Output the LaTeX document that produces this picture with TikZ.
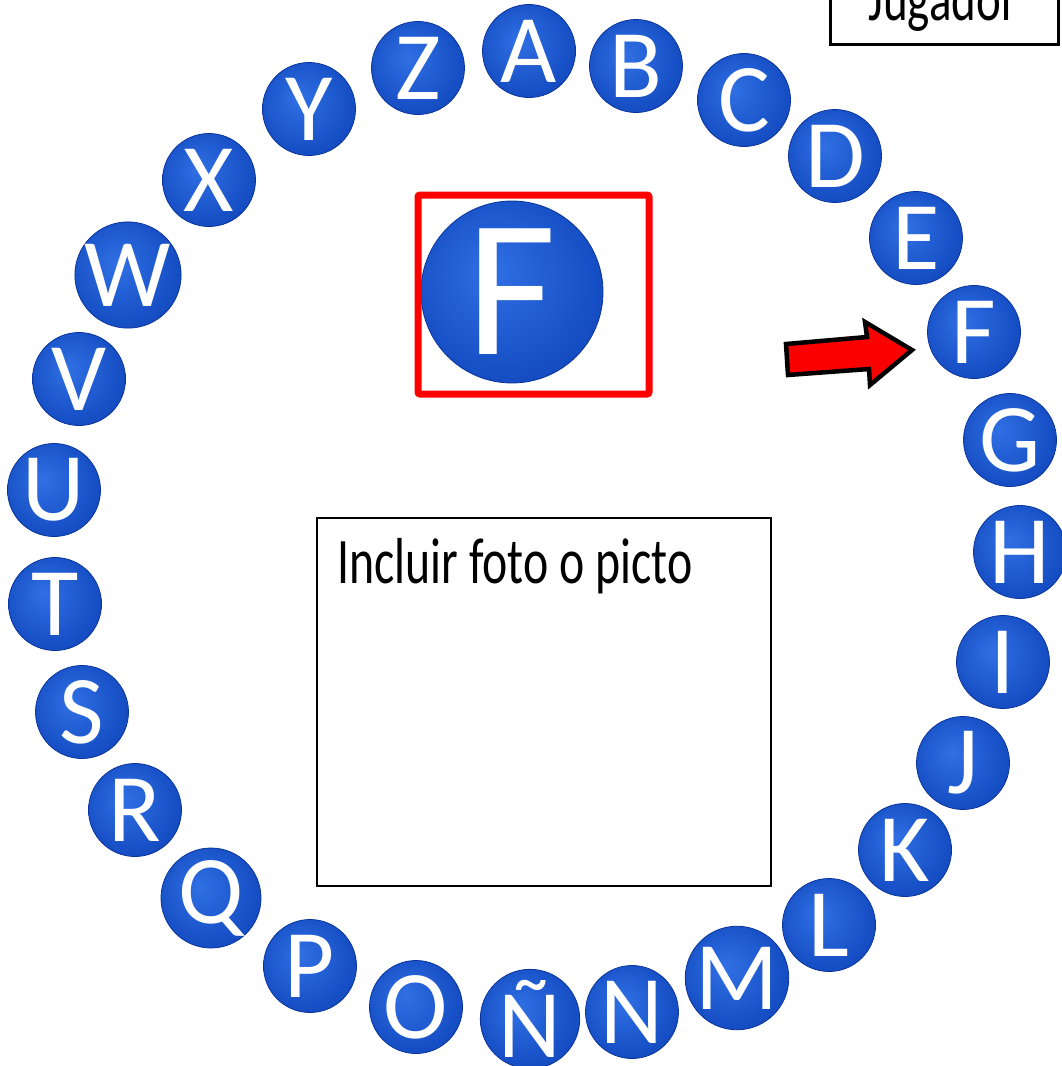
\documentclass[tikz,border=0pt]{standalone}
\usepackage{fontspec}
\setmainfont{Carlito}
\usetikzlibrary{shapes.geometric}
\definecolor{ballin}{RGB}{48,112,228}
\definecolor{ballmid}{RGB}{22,78,196}
\definecolor{ballout}{RGB}{10,52,156}
\definecolor{arrowred}{RGB}{250,0,0}
\pgfdeclareradialshading{ballshade}{\pgfpoint{-6bp}{6bp}}{color(0bp)=(ballin); color(26bp)=(ballmid); color(50bp)=(ballout)}
\tikzset{
  ball/.style={circle, minimum size=93pt, inner sep=0pt, shading=ballshade,
    text=white, font=\fontsize{97}{97}\selectfont, draw=ballout, line width=0.8pt},
  bigball/.style={ball, minimum size=182pt, font=\fontsize{196}{196}\selectfont},
  plainbox/.style={draw=black, line width=2.2pt},
  txt/.style={inner sep=0pt, anchor=base west}
}
\begin{document}
\begin{tikzpicture}[x=1pt,y=-1pt]
\useasboundingbox (0,0) rectangle (1061,1066);
\fill[white] (0,0) rectangle (1061,1066);
% ring of letters
\node[ball] (A) at (529,51) {A};
\node[ball] (B) at (636,66) {B};
\node[ball] (C) at (744,100) {C};
\node[ball] (D) at (835,156) {D};
\node[ball] (E) at (916,238) {E};
\node[ball] (F) at (974,332) {F};
\node[ball] (G) at (1010,440) {G};
\node[ball] (H) at (1020,552) {H};
\node[ball] (I) at (1003,662) {I};
\node[ball] (J) at (963,763) {J};
\node[ball] (K) at (905,850) {K};
\node[ball] (L) at (829,925) {L};
\node[ball] (M) at (737,978) {M};
\node[ball] (N) at (632,1012) {N};
\node[ball] (NN) at (530,1019) {Ñ};
\node[ball] (O) at (416,1007) {O};
\node[ball] (P) at (310,966) {P};
\node[ball] (Q) at (211,898) {Q};
\node[ball] (R) at (135,810) {R};
\node[ball] (S) at (82,712) {S};
\node[ball] (T) at (55,604) {T};
\node[ball] (U) at (54,490) {U};
\node[ball] (V) at (79,379) {V};
\node[ball] (W) at (128,275) {W};
\node[ball] (X) at (209,180) {X};
\node[ball] (Y) at (309,109) {Y};
\node[ball] (Z) at (418,68) {Z};
% big letter in red frame
\node[bigball] (bigF) at (512,292) {F};
\draw[red, line width=7pt, rounded corners=2pt] (418,195) rectangle (649,394);
% red arrow pointing to F
\draw[fill=arrowred, draw=black, line width=4.5pt, line join=miter]
  (786,344) -- (867,337) -- (865,322) -- (912,350) -- (870,385) -- (869,369) -- (788,375) -- cycle;
% photo box
\draw[plainbox] (317,518) rectangle (771,886);
\node[txt] (incl) at (337,583) {\scalebox{1}[1.36]{\fontsize{47.8}{50}\selectfont Incluir foto o picto}};
% player box
\draw[plainbox, line width=3pt] (830,-10) rectangle (1058,44);
\node[txt] (jug) at (868,20) {\scalebox{1}[1.36]{\fontsize{47}{50}\selectfont Jugador}};
\end{tikzpicture}
\end{document}
